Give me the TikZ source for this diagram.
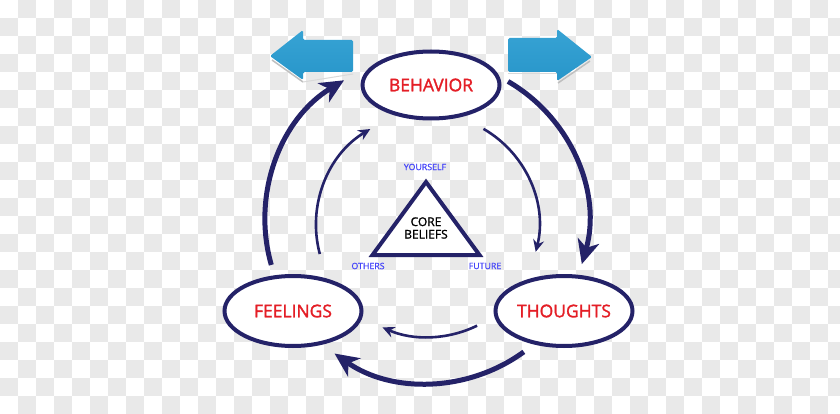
\documentclass[tikz,border=0pt]{standalone}
\usepackage{fontspec}
\setmainfont{Open Sans}
\newfontfamily\semib[FakeBold=1.6]{Open Sans}
\newfontfamily\lightb[FakeBold=0.8]{Open Sans}
\usetikzlibrary{arrows.meta,shapes.geometric,calc}
\definecolor{navy}{RGB}{36,34,104}
\definecolor{labred}{RGB}{228,30,38}
\definecolor{labblue}{RGB}{70,70,250}
\definecolor{checkgray}{RGB}{233,233,233}
\definecolor{arrblueA}{RGB}{55,163,212}
\definecolor{arrblueB}{RGB}{40,150,202}
\tikzset{
  stage/.style={ellipse, draw=navy, line width=4pt, fill=white, inner sep=0pt,
    text=labred, font=\semib\fontsize{17.5}{20}\selectfont},
  outerarrow/.style={draw=navy, line width=5pt,
    -{Stealth[length=24pt, width=22pt, inset=7pt]}},
  innerarrow/.style={draw=navy, line width=2.6pt,
    -{Stealth[length=12pt, width=11pt, inset=4pt]}},
  corner/.style={text=labblue, font=\lightb\fontsize{8.8}{10}\selectfont, inner sep=0pt},
  bluearrow/.style={top color=arrblueA, bottom color=arrblueB, rounded corners=1.5pt},
}
\begin{document}
\begin{tikzpicture}[x=1pt,y=1pt]
\useasboundingbox (0,0) rectangle (840,413);
\clip (0,0) rectangle (840,413);
\fill[white] (0,0) rectangle (840,413);
\foreach \i in {0,...,46}{
  \foreach \j in {0,...,22}{
    \pgfmathtruncatemacro{\odd}{mod(\i+\j,2)}
    \ifnum\odd=1
      \fill[checkgray] (\i*18, 395-\j*18) rectangle ++(18,18);
    \fi
  }
}
% top blue arrows
\draw[black!25, line width=1.5pt] (272,353) -- (303,331);
\draw[black!15, line width=1pt] (303,331) -- (353,339);
\shade[bluearrow] (270,357) -- (303,383) -- (303,373) -- (353,373) -- (353,341) -- (303,341) -- (303,333) -- cycle;
\draw[black!25, line width=1.5pt] (590,352) -- (558,330);
\draw[black!15, line width=1pt] (508,339) -- (557,339);
\shade[bluearrow] (592,356) -- (557,384) -- (557,375) -- (508,375) -- (508,341) -- (557,341) -- (557,332) -- cycle;
% stage nodes
\node[stage, minimum width=137pt, minimum height=67pt] (beh) at (431,328) {BEHAVIOR};
\node[stage, minimum width=137pt, minimum height=70pt] (fee) at (293,102) {FEELINGS};
\node[stage, minimum width=137pt, minimum height=70pt] (tho) at (564,102) {THOUGHTS};
% core triangle
\coordinate (ta) at (426,231);
\coordinate (tl) at (372.5,158);
\coordinate (tr) at (479.5,158);
\draw[navy, line width=4pt, fill=white, line join=miter] (ta) -- (tl) -- (tr) -- cycle;
\node[font=\semib\fontsize{12}{13.5}\selectfont, align=center, inner sep=0pt] (core) at (426,185) {CORE\\[-1pt]BELIEFS};
\node[corner] (you) at (425,246) {YOURSELF};
\node[corner] (oth) at (368,147) {OTHERS};
\node[corner] (fut) at (485,147) {FUTURE};
% cycle arrows
\coordinate (oc) at (428,193);
\coordinate (ic) at (428,188);
\draw[outerarrow] ($(oc)+(196:163)$) arc[start angle=196, end angle=121, radius=163pt];
\draw[outerarrow] ($(oc)+(60:160)$) arc[start angle=60, end angle=-16, radius=160pt];
\draw[outerarrow] ($(oc)+(-54:163)$) arc[start angle=-54, end angle=-125, radius=163pt];
\draw[innerarrow] ($(ic)+(195:112)$) arc[start angle=195, end angle=121, radius=112pt];
\draw[innerarrow] ($(ic)+(60:111)$) arc[start angle=60, end angle=-14, radius=111pt];
\draw[innerarrow] ($(ic)+(-64:112)$) arc[start angle=-64, end angle=-114, radius=112pt];
\end{tikzpicture}
\end{document}
